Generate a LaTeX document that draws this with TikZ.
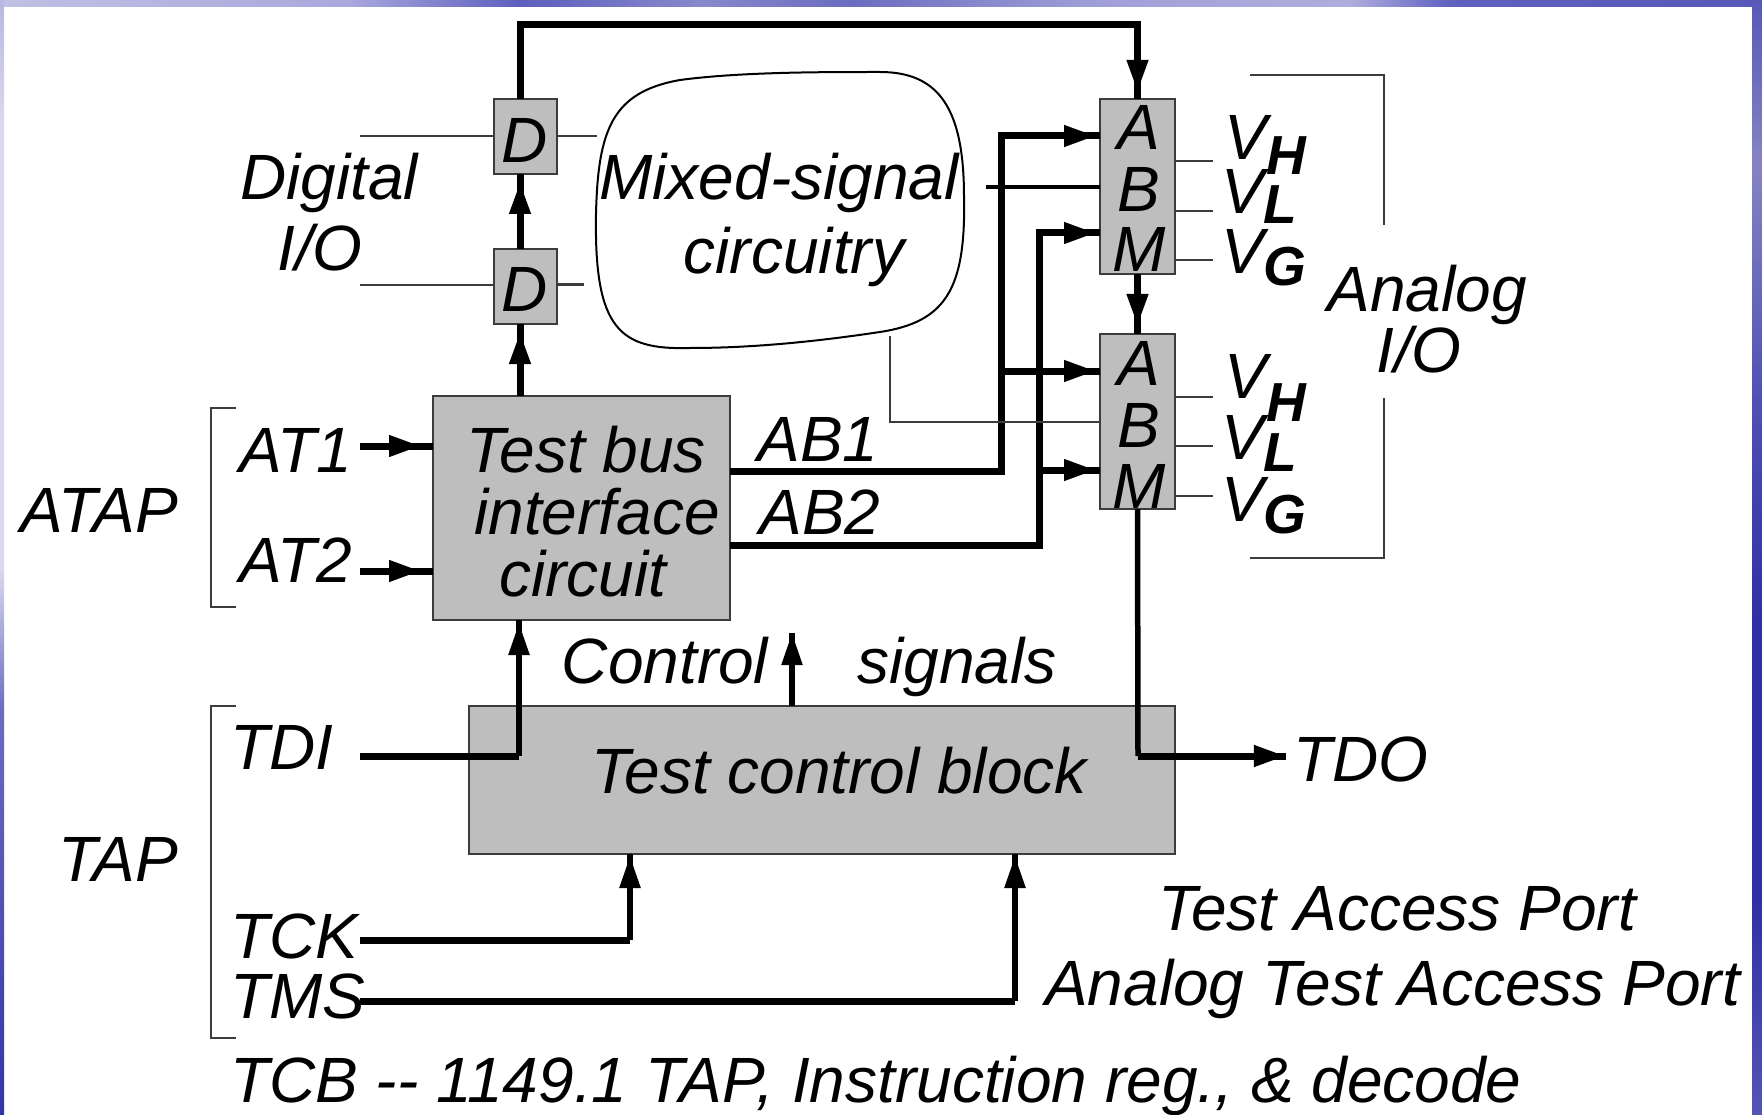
\documentclass[tikz,border=0pt]{standalone}
\usepackage{fontspec}
\setmainfont{Liberation Sans}
\usetikzlibrary{arrows.meta}
\usetikzlibrary{decorations.markings}

\definecolor{boxgray}{HTML}{BEBEBE}
\definecolor{edgegray}{HTML}{3C3C3C}
\newcommand{\vport}[2]{V\raisebox{-#2pt}{\fontsize{55}{60}\selectfont\bfseries #1}}

\begin{document}
\begin{tikzpicture}[
    x=1pt, y=-1pt,
    block/.style={draw=edgegray, line width=2pt, fill=boxgray, inner sep=0pt, outer sep=0pt},
    lab/.style={font=\fontsize{64}{70}\selectfont\itshape, inner sep=0pt, anchor=base},
    labl/.style={lab, anchor=base west},
    fine/.style={line width=2pt, edgegray},
    bus/.style={line width=7pt, black},
    sbus/.style={line width=5.5pt, black},
    headat/.style={postaction={decorate}, decoration={markings,
        mark=at position -#1 with {\arrow{Triangle[length=32pt,width=20pt]}}}}
]
\useasboundingbox (0,0) rectangle (1762,1115);

% Slide frame
\fill[white] (0,0) rectangle (1762,1115);
\foreach \xa/\xb/\ca/\cb in {0/350/C0C0E4/A8A8DC, 350/520/A8A8DC/5E5EBE, 520/700/5E5EBE/8888CC,
    700/850/8888CC/6C6CC0, 850/1100/6C6CC0/A0A0D8, 1100/1350/A0A0D8/AEAEDC,
    1350/1450/AEAEDC/6060C0, 1450/1762/6060C0/5858B8} {
  \definecolor{ca}{HTML}{\ca}\definecolor{cb}{HTML}{\cb}
  \shade[left color=ca, right color=cb] (\xa,0) rectangle (\xb,7);
}
\foreach \ya/\yb/\ca/\cb in {0/120/B8B8E0/D8D8F0, 120/570/D8D8F0/D8D8F0,
    570/710/D8D8F0/6C6CC0, 710/1115/6C6CC0/3434A8} {
  \definecolor{ca}{HTML}{\ca}\definecolor{cb}{HTML}{\cb}
  \shade[top color=ca, bottom color=cb] (0,\ya) rectangle (4,\yb);
}
\foreach \ya/\yb/\ca/\cb in {0/164/5858B8/8484C4, 164/400/8484C4/5050B4,
    400/620/5050B4/3030A4, 620/900/3030A4/3030A4, 900/1115/3030A4/5555B5} {
  \definecolor{ca}{HTML}{\ca}\definecolor{cb}{HTML}{\cb}
  \shade[top color=ca, bottom color=cb] (1752,\ya) rectangle (1762,\yb);
}

% Blocks
\node[block, minimum width=63, minimum height=75] (dtop) at (525.5,136.5) {};
\node[block, minimum width=63, minimum height=75] (dbot) at (525.5,286.5) {};
\node[block, minimum width=75, minimum height=175] (abmtop) at (1137.5,186.5) {};
\node[block, minimum width=75, minimum height=175] (abmbot) at (1137.5,421.5) {};
\node[block, minimum width=297, minimum height=224] (tbic) at (581.5,508) {};
\node[block, minimum width=706, minimum height=148] (tcb) at (822,780) {};

% Free ends and turns
\coordinate (dtopio) at (360,136);
\coordinate (dbotio) at (360,285);
\coordinate (dtopin) at (597,136);
\coordinate (dbotin) at (584,285);
\coordinate (topturn) at (520,25);
\coordinate (atone) at (360,446);
\coordinate (attwo) at (360,571);
\coordinate (abone) at (1001,471);
\coordinate (abtwo) at (1039,545);
\coordinate (tdi) at (360,756);
\coordinate (tditurn) at (519,756);
\coordinate (tdoturn) at (1138,756);
\coordinate (tdo) at (1286,756);
\coordinate (tck) at (360,940);
\coordinate (tckturn) at (630,940);
\coordinate (tms) at (360,1001);
\coordinate (tmsturn) at (1015,1001);
\coordinate (ctlup) at (792,633);
\coordinate (mixb) at (986,187.5);
\coordinate (mixl) at (890,336);

% Mixed-signal outline
\draw[line width=2pt] (596,214) .. controls (598,130) and (612,92) .. (680,80)
  .. controls (740,72) and (820,72) .. (880,72)
  .. controls (940,72) and (964,110) .. (964,197)
  .. controls (966,290) and (945,322) .. (880,332)
  .. controls (800,344) and (740,348) .. (690,348)
  .. controls (620,350) and (594,330) .. (596,214) -- cycle;

% Digital side
\draw[fine] (dtopio) -- (dtopio -| dtop.west);
\draw[fine] (dbotio) -- (dbotio -| dbot.west);
\draw[fine] (dtopin -| dtop.east) -- (dtopin);
\draw[line width=3pt, edgegray] (dbotin -| dbot.east) -- (dbotin);
\draw[bus, headat=8pt] (topturn |- dbot.north) -- (topturn |- dtop.south);
\draw[bus, headat=8pt] (topturn |- tbic.north) -- (topturn |- dbot.south);
\draw[bus, headat=7pt] (topturn |- dtop.north) -- (topturn) -| (abmtop.north);

% Analog buses
\draw[bus, headat=4pt] (abone -| tbic.east) -- (abone) |- ([yshift=50.5pt]abmtop.west);
\draw[bus, headat=4pt] (abone |- abmbot.north) ++(0,37) -- ([yshift=50.5pt]abmbot.west);
\draw[bus, headat=4pt] (abtwo -| tbic.east) -- (abtwo) |- ([yshift=-46.5pt]abmtop.west);
\draw[bus, headat=4pt] (abtwo |- abmbot.west) ++(0,48.5) -- ([yshift=-48.5pt]abmbot.west);
\draw[line width=4pt] (mixb) -- (mixb -| abmtop.west);
\draw[fine] (mixl) |- (abmbot.west);
\draw[bus, headat=8pt] (abmtop.south) -- (abmbot.north);
\draw[sbus] (abmbot.south) -- (tdoturn);
\draw[bus, headat=0.1pt] (tdoturn) -- (tdo);

% AT inputs
\draw[bus, headat=12pt] (atone) -- (atone -| tbic.west);
\draw[bus, headat=12pt] (attwo) -- (attwo -| tbic.west);

% Test control lines
\draw[bus] (tdi) -- (tditurn);
\draw[sbus, headat=3pt] (tditurn) -- (tditurn |- tbic.south);
\draw[sbus, headat=0.1pt] (ctlup |- tcb.north) -- (ctlup);
\draw[bus] (tck) -- (tckturn);
\draw[sbus, headat=2pt] (tckturn) -- (tckturn |- tcb.south);
\draw[bus] (tms) -- (tmsturn);
\draw[sbus, headat=2pt] (tmsturn) -- (tmsturn |- tcb.south);

% Brackets
\draw[fine] (236,408) -- (211,408) -- (211,607) -- (236,607);
\draw[fine] (236,706) -- (211,706) -- (211,1038) -- (236,1038);
\draw[fine] (1250,75) -- (1384,75) -- (1384,225);
\draw[fine] (1384,398) -- (1384,558) -- (1250,558);

% Stubs to the V labels
\coordinate (vhtop) at (1213,161.5);
\coordinate (vltop) at (1213,211);
\coordinate (vgtop) at (1213,260);
\coordinate (vhbot) at (1213,397);
\coordinate (vlbot) at (1213,446);
\coordinate (vgbot) at (1213,496);
\draw[fine] (vhtop -| abmtop.east) -- (vhtop);
\draw[fine] (vltop -| abmtop.east) -- (vltop);
\draw[fine] (vgtop -| abmtop.east) -- (vgtop);
\draw[fine] (vhbot -| abmbot.east) -- (vhbot);
\draw[fine] (vlbot -| abmbot.east) -- (vlbot);
\draw[fine] (vgbot -| abmbot.east) -- (vgbot);

% Labels
\node[lab] (ltop) at (525,163) {D};
\node[lab] (lbot) at (525,312) {D};
\node[lab] (digital) at (329,200) {Digital};
\node[lab] (digio) at (320,271) {I/O};
\node[lab] (mixed) at (779,200) {Mixed-signal};
\node[lab] (circ) at (794,274) {circuitry};
\node[lab] (atap) at (99,532) {ATAP};
\node[lab] (atonel) at (296,472) {AT1};
\node[lab] (attwol) at (296,582) {AT2};
\node[lab] (testbus) at (586,472) {Test bus};
\node[lab] (iface) at (597,534) {interface};
\node[lab] (circt) at (583,596) {circuit};
\node[lab] (abonel) at (818,461) {AB1};
\node[lab] (abtwol) at (820,534) {AB2};
\node[lab] (atopl) at (1139,150) {A};
\node[lab] (btopl) at (1139,212) {B};
\node[lab] (mtopl) at (1139,272) {M};
\node[lab] (abotl) at (1139,385) {A};
\node[lab] (bbotl) at (1139,447) {B};
\node[lab] (mbotl) at (1139,508) {M};
\node[labl] (vhtopl) at (1224,160) {\vport{H}{15}};
\node[labl] (vltopl) at (1221,214) {\vport{L}{10}};
\node[labl] (vgtopl) at (1221,274) {\vport{G}{12}};
\node[labl] (vhbotl) at (1224,398) {\vport{H}{24}};
\node[labl] (vlbotl) at (1221,459) {\vport{L}{12}};
\node[labl] (vgbotl) at (1221,521) {\vport{G}{12}};
\node[lab] (analog) at (1427,312) {Analog};
\node[lab] (anaio) at (1419,372) {I/O};
\node[lab] (control) at (665,683) {Control};
\node[lab] (signals) at (957,683) {signals};
\node[lab] (tcbl) at (839,793) {Test control block};
\node[labl] (tdil) at (230,769) {TDI};
\node[labl] (tdol) at (1293,781) {TDO};
\node[lab] (tap) at (118,881) {TAP};
\node[labl] (tckl) at (230,958) {TCK};
\node[labl] (tmsl) at (230,1018) {TMS};
\node[lab] (tapname) at (1397,930) {Test Access Port};
\node[labl] (atapname) at (1045,1005) {Analog Test Access Port};
\node[labl] (tcbnote) at (230,1102) {TCB {-}{-} 1149.1 TAP, Instruction reg., \& decode};

\end{tikzpicture}
\end{document}
